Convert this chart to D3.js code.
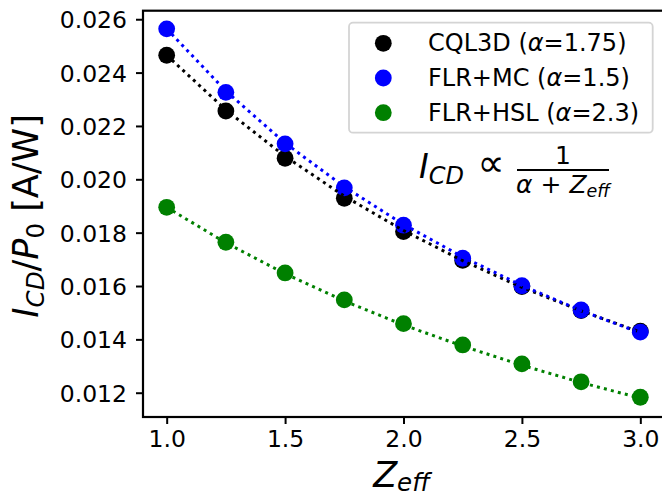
<!DOCTYPE html>
<html>
<head>
<meta charset="utf-8">
<script src="https://cdn.jsdelivr.net/npm/d3@7"></script>
<style>
  html, body { margin: 0; padding: 0; background: #fff; }
  svg { display: block; font-family: "DejaVu Sans", sans-serif; }
</style>
</head>
<body>
<svg id="chart" width="662" height="499"></svg>
<script>
// ---- data ----
const zeff = [1.0, 1.25, 1.5, 1.75, 2.0, 2.25, 2.5, 2.75, 3.0];
const cql3d  = [0.02465, 0.02256, 0.02079, 0.01929, 0.01804, 0.01696, 0.01598, 0.01508, 0.01431];
const flrMC  = [0.02564, 0.02326, 0.02133, 0.01968, 0.01828, 0.01704, 0.01601, 0.01510, 0.01427];
const flrHSL = [0.01895, 0.01764, 0.01649, 0.01548, 0.01459, 0.01379, 0.01308, 0.01241, 0.01183];
// fitted curves I ~ 1/(alpha+Zeff)
const cql3dFit  = [0.02465, 0.02260, 0.02086, 0.01937, 0.01808, 0.01695, 0.01595, 0.01507, 0.01427];
const flrMCFit  = [0.02564, 0.02331, 0.02136, 0.01972, 0.01831, 0.01709, 0.01602, 0.01508, 0.01424];
const flrHSLFit = [0.01895, 0.01762, 0.01646, 0.01544, 0.01454, 0.01375, 0.01303, 0.01238, 0.01180];
const seriesNames = ["CQL3D", "FLR+MC", "FLR+HSL"];
const alphas = ["1.75", "1.5", "2.3"];
const colors = ["#000000", "#0000ff", "#008000"];
const xTicks = [1.0, 1.5, 2.0, 2.5, 3.0];
const yTicks = [0.012, 0.014, 0.016, 0.018, 0.020, 0.022, 0.024, 0.026];

const svg = d3.select("#chart");
const L = 143, R = 664, T = 10.7, B = 417;
const x = d3.scaleLinear().domain([0.9, 3.1]).range([L, R]);
const y = d3.scaleLinear().domain([0.01109, 0.02632]).range([B, T]);

const series = [
  { pts: cql3d, fit: cql3dFit },
  { pts: flrMC, fit: flrMCFit },
  { pts: flrHSL, fit: flrHSLFit }
];

// scatter points
series.forEach((s, i) => {
  svg.append("g").selectAll("circle").data(s.pts).join("circle")
    .attr("cx", (d, j) => x(zeff[j]))
    .attr("cy", d => y(d))
    .attr("r", 8.4)
    .attr("fill", colors[i]);
});
// dotted fit lines
const line = d3.line().x((d, j) => x(zeff[j])).y(d => y(d));
series.forEach((s, i) => {
  svg.append("path").datum(s.fit)
    .attr("d", line)
    .attr("fill", "none")
    .attr("stroke", colors[i])
    .attr("stroke-width", 3)
    .attr("stroke-dasharray", "3,4.2");
});

// axes
const xAxis = d3.axisBottom(x).tickValues(xTicks).tickFormat(d3.format(".1f")).tickSize(7).tickPadding(6);
const yAxis = d3.axisLeft(y).tickValues(yTicks).tickFormat(d3.format(".3f")).tickSize(7).tickPadding(9);
const gx = svg.append("g").attr("transform", `translate(0,${B})`).call(xAxis);
const gy = svg.append("g").attr("transform", `translate(${L},0)`).call(yAxis);
[gx, gy].forEach(g => {
  g.select(".domain").remove();
  g.selectAll(".tick line").attr("stroke", "#000").attr("stroke-width", 2);
  g.selectAll(".tick text").attr("fill", "#000").style("font-size", "23.5px")
    .style("font-family", "DejaVu Sans");
});
gx.selectAll(".tick text").attr("dy", "0.71em");
gy.selectAll(".tick text").attr("dy", "0.36em");

// spines
svg.append("rect").attr("x", L).attr("y", T).attr("width", R - L).attr("height", B - T)
  .attr("fill", "none").attr("stroke", "#000").attr("stroke-width", 2.2);

// legend
const lg = svg.append("g");
lg.append("rect").attr("x", 349).attr("y", 22.7).attr("width", 303.7).attr("height", 110)
  .attr("rx", 4).attr("fill", "#fff").attr("fill-opacity", 0.8)
  .attr("stroke", "#d4d4d4").attr("stroke-width", 1.8);
seriesNames.forEach((n, i) => {
  const cy = 43.3 + i * 34.7;
  lg.append("circle").attr("cx", 383.3).attr("cy", cy).attr("r", 8.4).attr("fill", colors[i]);
  const t = lg.append("text").attr("x", 428).attr("y", cy + 8)
    .style("font-size", "24px").attr("fill", "#000");
  t.append("tspan").text(n + " (");
  t.append("tspan").style("font-style", "italic").text("α");
  t.append("tspan").text("=" + alphas[i] + ")");
});

// annotation  I_CD ∝ 1/(α+Z_eff)
const an = svg.append("g").attr("fill", "#000");
const t1 = an.append("text").attr("x", 419).attr("y", 178).style("font-size", "33px");
t1.append("tspan").style("font-style", "italic").text("I");
t1.append("tspan").style("font-style", "italic").style("font-size", "24px").attr("dy", 6).text("CD");
an.append("text").attr("x", 491).attr("y", 176).attr("text-anchor", "middle")
  .style("font-size", "38px").style("font-family", "DejaVu Sans").text("∝");
an.append("line").attr("x1", 517).attr("x2", 609).attr("y1", 170).attr("y2", 170)
  .attr("stroke", "#000").attr("stroke-width", 1.8);
an.append("text").attr("x", 563).attr("y", 163.5).attr("text-anchor", "middle")
  .style("font-size", "25px").text("1");
const t2 = an.append("text").attr("x", 563).attr("y", 193).attr("text-anchor", "middle")
  .style("font-size", "25px");
t2.append("tspan").style("font-style", "italic").text("α");
t2.append("tspan").text(" + ");
t2.append("tspan").style("font-style", "italic").text("Z");
t2.append("tspan").style("font-style", "italic").style("font-size", "17.5px").attr("dy", 4).text("eff");

// x label
const xl = svg.append("text").attr("x", (L + R) / 2 - 2).attr("y", 487)
  .attr("text-anchor", "middle").style("font-size", "35px").attr("fill", "#000");
xl.append("tspan").style("font-style", "italic").text("Z");
xl.append("tspan").style("font-style", "italic").style("font-size", "24.5px").attr("dy", 4).text("eff");

// y label
const yl = svg.append("text").attr("transform", `translate(38,216) rotate(-90)`)
  .attr("text-anchor", "middle").style("font-size", "35px").attr("fill", "#000");
yl.append("tspan").style("font-style", "italic").text("I");
yl.append("tspan").style("font-style", "italic").style("font-size", "24.5px").attr("dy", 6).text("CD");
yl.append("tspan").attr("dy", -6).text("/");
yl.append("tspan").style("font-style", "italic").text("P");
yl.append("tspan").style("font-size", "24.5px").attr("dy", 6).text("0");
yl.append("tspan").attr("dy", -6).text(" [A/W]");
</script>
</body>
</html>
